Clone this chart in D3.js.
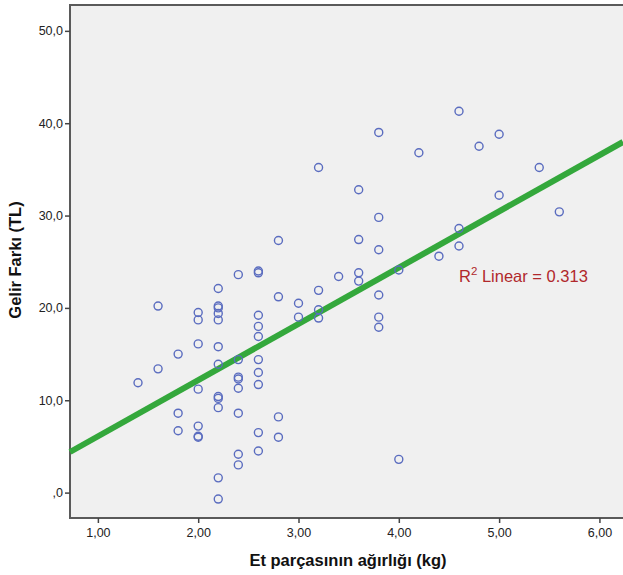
<!DOCTYPE html>
<html>
<head>
<meta charset="utf-8">
<script src="https://cdn.jsdelivr.net/npm/d3@7"></script>
<style>
  body { margin: 0; background: #fff; }
  svg { font-family: "Liberation Sans", Arial, sans-serif; }
</style>
</head>
<body>
<svg width="623" height="575"></svg>
<script>
// weight (kg) -> income difference (TL)
const weights = [
  1.4,
  1.6, 1.6,
  1.8, 1.8, 1.8,
  2.0, 2.0, 2.0, 2.0, 2.0, 2.0, 2.0,
  2.2, 2.2, 2.2, 2.2, 2.2, 2.2, 2.2, 2.2, 2.2, 2.2, 2.2, 2.2,
  2.4, 2.4, 2.4, 2.4, 2.4, 2.4, 2.4, 2.4,
  2.6, 2.6, 2.6, 2.6, 2.6, 2.6, 2.6, 2.6, 2.6, 2.6,
  2.8, 2.8, 2.8, 2.8,
  3.0, 3.0,
  3.2, 3.2, 3.2, 3.2,
  3.4,
  3.6, 3.6, 3.6, 3.6,
  3.8, 3.8, 3.8, 3.8, 3.8, 3.8,
  4.0, 4.0,
  4.2,
  4.4,
  4.6, 4.6, 4.6,
  4.8,
  5.0, 5.0,
  5.4,
  5.6
];
const incomeDiff = [
  11.9,
  20.2, 13.4,
  15.0, 8.6, 6.7,
  19.5, 18.7, 16.1, 11.2, 7.2, 6.0, 6.1,
  22.1, 20.2, 20.0, 19.4, 18.7, 15.8, 13.9, 10.4, 10.2, 9.2, 1.6, -0.7,
  23.6, 14.4, 12.5, 12.3, 11.3, 8.6, 4.15, 3.0,
  24.0, 23.8, 19.2, 18.0, 16.9, 14.4, 13.0, 11.7, 6.5, 4.5,
  27.3, 21.2, 8.2, 6.0,
  20.5, 19.0,
  35.2, 21.9, 19.8, 18.9,
  23.4,
  32.8, 27.4, 23.8, 22.9,
  39.0, 29.8, 26.3, 21.4, 19.0, 17.9,
  24.1, 3.6,
  36.8,
  25.6,
  41.3, 28.6, 26.7,
  37.5,
  38.8, 32.2,
  35.2,
  30.4
];
const xTicks = [1, 2, 3, 4, 5, 6];
const yTicks = [0, 10, 20, 30, 40, 50];
// fitted line as printed in the chart (intercept, slope) and its R²
const fitLine = [0.0, 6.09];
const r2Text = "0.313";

const points = weights.map((w, i) => ({ x: w, y: incomeDiff[i] }));

const svg = d3.select("svg");
const plotL = 70, plotT = 5, plotR = 623, plotB = 518;

const x = d3.scaleLinear().domain([0.722, 6.235]).range([plotL, plotR]);
const y = d3.scaleLinear().domain([-2.75, 52.8]).range([plotB, plotT]);

// plot background
svg.append("rect")
  .attr("x", plotL).attr("y", plotT)
  .attr("width", plotR - plotL).attr("height", plotB - plotT)
  .attr("fill", "#f0f0f0");

// frame
svg.append("path")
  .attr("d", `M${plotR},${plotT}H${plotL}V${plotB}H${plotR}`)
  .attr("fill", "none").attr("stroke", "#5a5a5a").attr("stroke-width", 2);

// axes
const fmtX = d => d3.format(".2f")(d).replace(".", ",");
const fmtY = d => d === 0 ? ",0" : d3.format(".1f")(d).replace(".", ",");

const xAxis = svg.append("g")
  .attr("transform", `translate(0,${plotB})`)
  .call(d3.axisBottom(x).tickValues(xTicks).tickFormat(fmtX).tickSize(5).tickPadding(5));
const yAxis = svg.append("g")
  .attr("transform", `translate(${plotL},0)`)
  .call(d3.axisLeft(y).tickValues(yTicks).tickFormat(fmtY).tickSize(5).tickPadding(2));

[xAxis, yAxis].forEach(g => {
  g.select(".domain").remove();
  g.selectAll("line").attr("stroke", "#444").attr("stroke-width", 1.5);
  g.selectAll("text").attr("fill", "#222").style("font-size", "12.5px")
    .style("font-family", "'Liberation Sans', Arial, sans-serif");
});

// regression line
const xs = x.domain();
const fit = v => fitLine[0] + fitLine[1] * v;
svg.append("line")
  .attr("x1", x(xs[0])).attr("y1", y(fit(xs[0])))
  .attr("x2", x(xs[1])).attr("y2", y(fit(xs[1])))
  .attr("stroke", "#34a83c").attr("stroke-width", 6);

// points
svg.append("g")
  .selectAll("circle")
  .data(points)
  .enter().append("circle")
  .attr("cx", d => x(d.x))
  .attr("cy", d => y(d.y))
  .attr("r", 4)
  .attr("fill", "none")
  .attr("stroke", "#5a6cbf")
  .attr("stroke-width", 1.4);

// R2 label
const r2 = svg.append("text")
  .attr("x", 459).attr("y", 282)
  .attr("fill", "#b0282c")
  .style("font-size", "16.5px");
r2.append("tspan").text("R");
r2.append("tspan").attr("dy", -7).style("font-size", "11.5px").text("2");
r2.append("tspan").attr("dy", 7).text(" Linear = " + r2Text);

// axis titles
svg.append("text")
  .attr("x", 348).attr("y", 566)
  .attr("text-anchor", "middle")
  .style("font-size", "16.5px").style("font-weight", "bold")
  .attr("fill", "#111")
  .text("Et parçasının ağırlığı (kg)");

svg.append("text")
  .attr("transform", "translate(21,260) rotate(-90)")
  .attr("text-anchor", "middle")
  .style("font-size", "16.5px").style("font-weight", "bold")
  .attr("fill", "#111")
  .text("Gelir Farkı (TL)");
</script>
</body>
</html>
